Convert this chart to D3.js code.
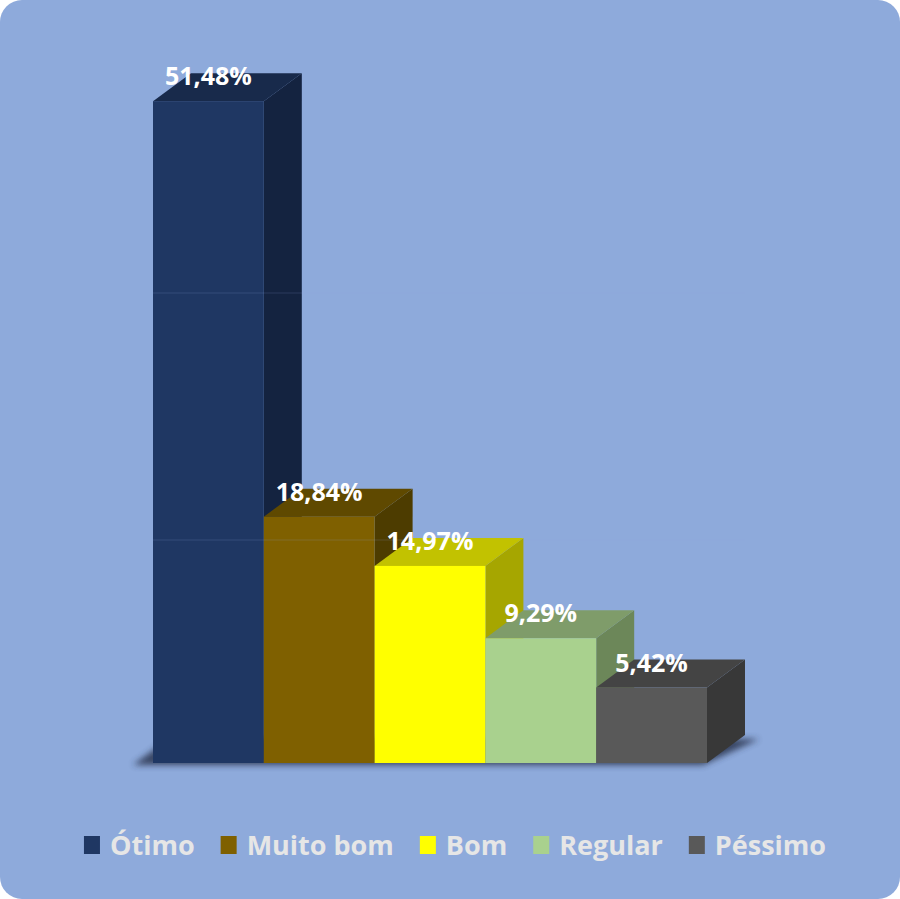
<!DOCTYPE html>
<html><head><meta charset="utf-8">
<script src="https://cdn.jsdelivr.net/npm/d3@7"></script>
<style>html,body{margin:0;padding:0;background:#fff;}svg{display:block;}</style>
</head><body>
<script>
const categories = ["Ótimo", "Muito bom", "Bom", "Regular", "Péssimo"];
const values = [51.48, 18.84, 14.97, 9.29, 5.42];
const valueLabels = ["51,48%", "18,84%", "14,97%", "9,29%", "5,42%"];
const gridValues = [20, 40];
const frontColors = ["#1f3763", "#7f6000", "#ffff00", "#a9d18e", "#595959"];
const topColors   = ["#182a4b", "#5f4900", "#c2c200", "#7f9c6a", "#444444"];
const sideColors  = ["#142340", "#4d3c00", "#a6a600", "#6c8759", "#383838"];

const W = 900, H = 899;
const BG = "#8eaadb";
const DX = 38, DY = 28;        // 3D depth offsets
const BASE_Y = 763;            // bottom edge of the front faces

const svg = d3.select("body").append("svg").attr("width", W).attr("height", H);
const defs = svg.append("defs");
const f = defs.append("filter").attr("id","sh").attr("x","-20%").attr("y","-100%").attr("width","140%").attr("height","300%");
f.append("feGaussianBlur").attr("stdDeviation", 3);

svg.append("rect").attr("x",0).attr("y",0).attr("width",W).attr("height",H)
  .attr("rx",22).attr("ry",22).attr("fill",BG);

const x = d3.scaleBand().domain(categories).range([153, 707]).paddingInner(0).paddingOuter(0);
const y = d3.scaleLinear().domain([0, 60]).range([756.5, -7.3]);
const gy = d3.scaleLinear().domain([0, 60]).range([787, 46]);
const bw = x.bandwidth();

// floor shadow
const x0 = x(categories[0]), x1 = x(categories[categories.length-1]) + bw;
svg.append("polygon")
  .attr("points", [[x0-20,BASE_Y+2],[x1-4,BASE_Y+2],[x1+DX+14,BASE_Y-DY+4],[x0+DX-20,BASE_Y-DY+2]].map(p=>p.join(",")).join(" "))
  .attr("fill","#2a3450").attr("opacity",0.85).attr("filter","url(#sh)");

const data = categories.map((c,i)=>({c, v: values[i], i}));

function drawBar(d){
  const g = svg.append("g");
  const xl = x(d.c), xr = xl + bw, yt = y(d.v);
  g.append("polygon")
    .attr("points", [[xr,yt],[xr+DX,yt-DY],[xr+DX,BASE_Y-DY],[xr,BASE_Y]].map(p=>p.join(",")).join(" "))
    .attr("fill", sideColors[d.i]);
  g.append("polygon")
    .attr("points", [[xl,yt],[xl+DX,yt-DY],[xr+DX,yt-DY],[xr,yt]].map(p=>p.join(",")).join(" "))
    .attr("fill", topColors[d.i]);
  g.append("rect").attr("x", xl).attr("y", yt).attr("width", bw).attr("height", BASE_Y - yt)
    .attr("fill", frontColors[d.i]);
}

data.slice(0,2).forEach(drawBar);
svg.append("g").selectAll("line").data(gridValues).join("line")
  .attr("x1", x0).attr("x2", x1 + DX)
  .attr("y1", d=>gy(d)).attr("y2", d=>gy(d))
  .attr("stroke", BG).attr("stroke-opacity", 0.18).attr("stroke-width", 1);
data.slice(2).forEach(drawBar);

svg.append("g").selectAll("text").data(data).join("text")
  .attr("x", d => x(d.c) + bw/2)
  .attr("y", d => y(d.v) - 16)
  .attr("text-anchor","middle")
  .attr("font-family","'Open Sans', sans-serif")
  .attr("font-weight","bold")
  .attr("font-size", 25)
  .attr("fill","#ffffff")
  .text(d => valueLabels[d.i]);

const lg = svg.append("g");
const items = lg.selectAll("g").data(data).join("g");
items.append("rect").attr("width",16).attr("height",18).attr("y",-19)
  .attr("fill", d=>frontColors[d.i]);
items.append("text").attr("x", 26).attr("y", 0)
  .attr("font-family","'Open Sans', sans-serif").attr("font-weight","bold")
  .attr("font-size", 27).attr("fill","#e6e6e6")
  .text(d=>d.c);
let cx = 0;
const pos = [];
items.each(function(d){
  const tw = d3.select(this).select("text").node().getComputedTextLength();
  pos.push(cx);
  cx += 26 + tw + 26;
});
const total = cx - 26;
const startX = 455 - total/2;
items.attr("transform", (d,i)=>`translate(${startX+pos[i]},855)`);
</script>
</body></html>
